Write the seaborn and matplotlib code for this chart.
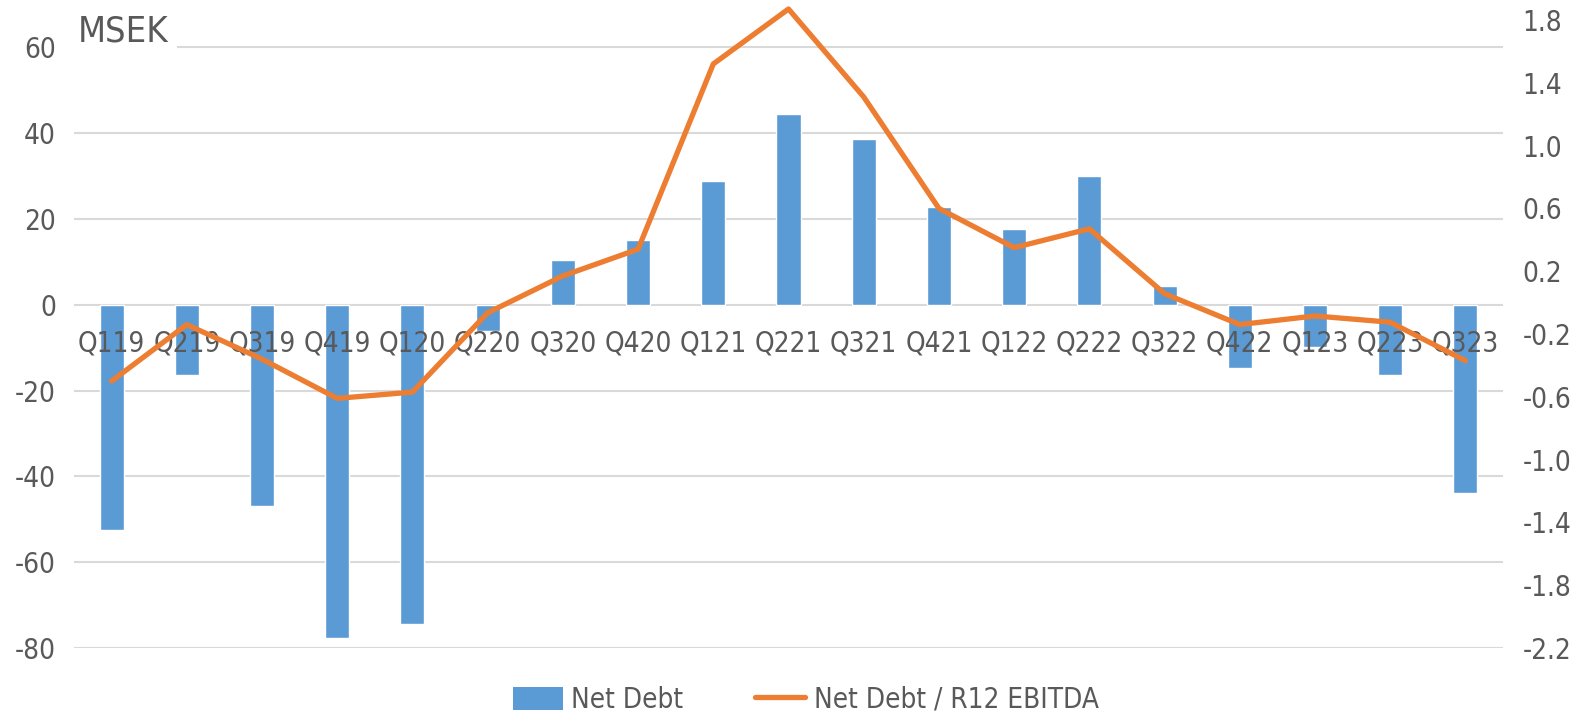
import numpy as np
import pandas as pd
import matplotlib
matplotlib.use("Agg")
import matplotlib.pyplot as plt
import seaborn as sns
from matplotlib.patches import Patch
from matplotlib.lines import Line2D

quarters = ["Q119", "Q219", "Q319", "Q419", "Q120", "Q220", "Q320", "Q420", "Q121", "Q221",
            "Q321", "Q421", "Q122", "Q222", "Q322", "Q422", "Q123", "Q223", "Q323"]
net_debt = [-52.6, -16.4, -46.8, -77.6, -74.3, -6.2, 10.4, 15.2, 28.9, 44.5,
            38.6, 22.7, 17.6, 30.1, 4.4, -14.8, -9.8, -16.3, -43.9]
ratio = [-0.50, -0.14, -0.36, -0.61, -0.57, -0.065, 0.17, 0.34, 1.52, 1.87,
         1.31, 0.60, 0.35, 0.47, 0.057, -0.14, -0.085, -0.125, -0.37]
left_ticks = [-80, -60, -40, -20, 0, 20, 40, 60]
right_ticks = [-2.2, -1.8, -1.4, -1.0, -0.6, -0.2, 0.2, 0.6, 1.0, 1.4, 1.8]

sns.set_theme(style="white")
plt.rcParams["font.family"] = ["DejaVu Sans"]
plt.rcParams["font.stretch"] = "condensed"
plt.rcParams["axes.unicode_minus"] = False

BLUE = "#5B9BD5"
ORANGE = "#ED7D31"
GREY = "#595959"

df = pd.DataFrame({"q": quarters, "nd": net_debt, "r": ratio, "x": np.arange(len(quarters))})

fig = plt.figure(figsize=(15.8, 7.17), dpi=100)
ax = fig.add_axes([74 / 1580, 1 - 648 / 717, (1503 - 74) / 1580, (648 - 20) / 717])

sns.barplot(data=df, x="q", y="nd", color=BLUE, saturation=1, width=0.32, ax=ax, zorder=2)
ax.set_ylim(-80, -80 + 628 / 4.29)
ax.set_yticks(left_ticks)
ax.set_xlim(-0.5, len(quarters) - 0.5)
ax.grid(False)
for t in left_ticks:
    ax.axhline(t, color="#D9D9D9", linewidth=1.5, zorder=0.5)
ax.set_axisbelow(False)
for s in ["top", "right", "left"]:
    ax.spines[s].set_visible(False)
ax.spines["bottom"].set_position(("data", 0))
ax.spines["bottom"].set_visible(False)
ax.tick_params(axis="x", length=0, pad=18, labelsize=20, labelcolor=GREY)
ax.tick_params(axis="y", length=0, pad=13, labelsize=20, labelcolor=GREY)
ax.set_xlabel("")
ax.set_ylabel("")

ax2 = ax.twinx()
sns.lineplot(data=df, x="x", y="r", color=ORANGE, linewidth=3.8, ax=ax2, clip_on=False,
             zorder=3)
ax2.set_ylim(-2.2, 1.8)
ax2.set_yticks(right_ticks)
ax2.set_yticklabels([f"{t:.1f}" for t in right_ticks])
ax2.set_xlim(-0.5, len(quarters) - 0.5)
for s in ax2.spines.values():
    s.set_visible(False)
ax2.tick_params(axis="y", length=0, pad=14, labelsize=20, labelcolor=GREY)
ax2.set_xlabel("")
ax2.set_ylabel("")
ax2.grid(False)

fig.text(78 / 1580, 1 - 32 / 717, "MSEK", fontsize=26, color=GREY, va="center", ha="left",
         bbox=dict(facecolor="white", edgecolor="none", pad=6), zorder=5)

handles = [Patch(facecolor=BLUE, edgecolor="none"),
           Line2D([0], [0], color=ORANGE, linewidth=3.8)]
fig.legend(handles, ["Net Debt", "Net Debt / R12 EBITDA"], loc="center",
           bbox_to_anchor=(0.51, 1 - 700 / 717), ncol=2, frameon=False, fontsize=20,
           labelcolor=GREY, handlelength=1.8, handleheight=0.9, columnspacing=2.6,
           handletextpad=0.3)

fig.savefig("out.png", dpi=100)
